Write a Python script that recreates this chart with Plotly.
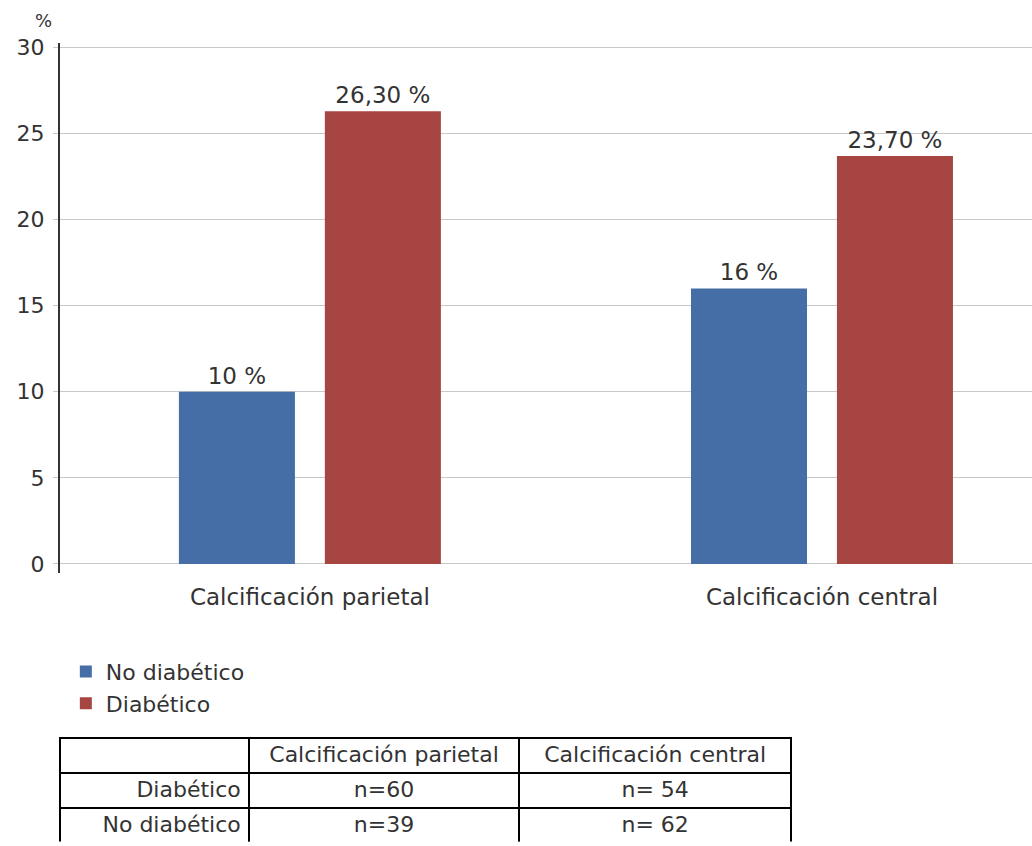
import plotly.graph_objects as go

categories = ["Calcificación parietal", "Calcificación central"]
no_diab = [10, 16]
diab = [26.3, 23.7]
no_diab_labels = ["10 %", "16 %"]
diab_labels = ["26,30 %", "23,70 %"]
series_names = ["No diabético", "Diabético"]
colors = ["#466ea6", "#a64541"]

table_header = ["", "Calcificación parietal", "Calcificación central"]
table_rows = ["Diabético", "No diabético"]
table_parietal = ["n=60", "n=39"]
table_central = ["n= 54", "n= 62"]

FONT = "DejaVu Sans"
FS = 23
W, H = 1032, 846
L = 60

fig = go.Figure()
for name, vals, labs, col in [(series_names[0], no_diab, no_diab_labels, colors[0]),
                              (series_names[1], diab, diab_labels, colors[1])]:
    fig.add_trace(go.Bar(
        x=categories, y=vals, name=name, marker_color=col, marker_line_width=0,
        text=labs, textposition="outside", cliponaxis=False,
        textfont=dict(family=FONT, size=FS, color="#333333"),
        xaxis="x", yaxis="y",
    ))

fig.add_trace(go.Table(
    domain=dict(x=[0, 731 / (W - L)], y=[0, (H - 740) / H]),
    columnwidth=[189, 271, 272],
    header=dict(values=table_header, align=["right", "center", "center"],
                line=dict(color="black", width=2), fill_color="white",
                font=dict(family=FONT, size=FS - 1, color="#333333"), height=35),
    cells=dict(values=[table_rows, table_parietal, table_central],
               align=["right", "center", "center"],
               line=dict(color="black", width=2), fill_color="white",
               font=dict(family=FONT, size=FS - 1, color="#333333"), height=35),
))

ytop, ybot = 36, 573
fig.update_layout(
    width=W, height=H,
    margin=dict(l=L, r=0, t=0, b=0),
    paper_bgcolor="white", plot_bgcolor="white",
    font=dict(family=FONT, size=FS, color="#333333"),
    barmode="group", bargap=0.43, bargroupgap=0.205,
    xaxis=dict(range=[-0.488, 1 + (W - 822) / 512], showgrid=False, showline=False,
               ticks="", tickfont=dict(size=FS), domain=[0, 1], ticklabelstandoff=8),
    yaxis=dict(range=[-0.52, 30.23], domain=[(H - ybot) / H, (H - ytop) / H],
               tickvals=[0, 5, 10, 15, 20, 25, 30], showgrid=True,
               gridcolor="#c8c8c8", gridwidth=1, zeroline=False,
               showline=True, linecolor="#333333", linewidth=2,
               ticks="outside", ticklen=5, tickcolor="#c8c8c8",
               tickfont=dict(size=FS - 1), ticklabelstandoff=4),
    legend=dict(x=0.006, y=(H - 652) / H, xanchor="left", yanchor="top",
                orientation="v", font=dict(size=FS - 1), itemwidth=30,
                tracegroupgap=0, bgcolor="rgba(0,0,0,0)"),
    annotations=[dict(text="%", x=-0.017, y=(H - 13) / H, xref="paper", yref="paper",
                      showarrow=False, font=dict(size=18), xanchor="center", yanchor="middle")],
)

fig.write_html("out.html")
